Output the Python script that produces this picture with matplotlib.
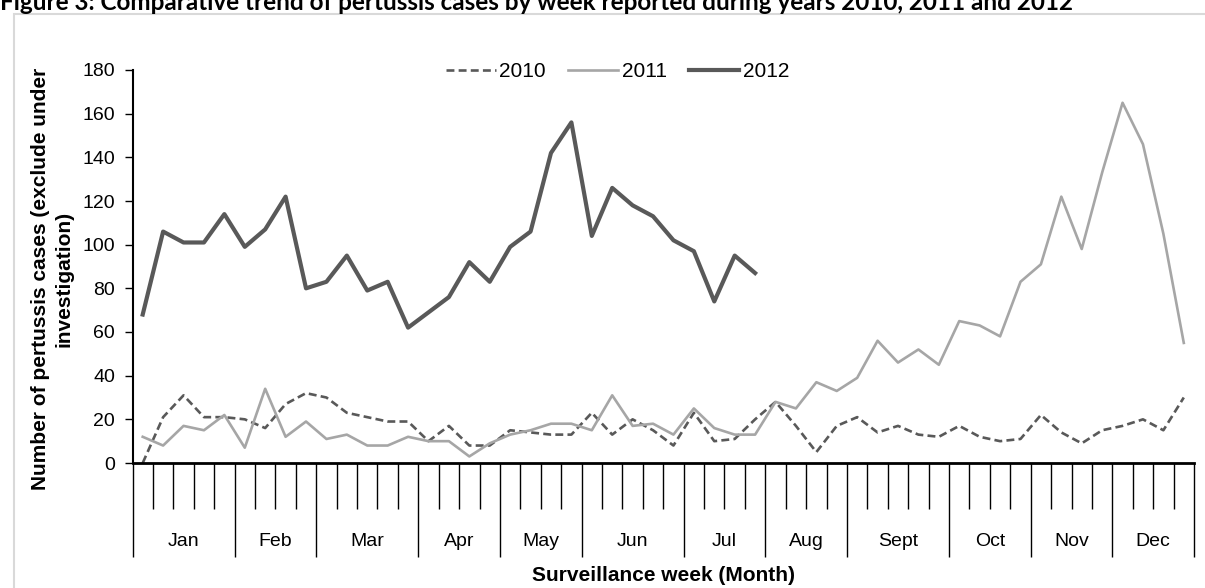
import numpy as np
import matplotlib
matplotlib.use('Agg')
import matplotlib.pyplot as plt
from matplotlib.patches import Rectangle
import matplotlib.transforms as mtransforms

# weekly counts
weeks = list(range(1, 53))
cases_2010 = [0, 21, 31, 21, 21, 20, 16, 27, 32, 30, 23, 21, 19, 19, 10, 17, 8, 8,
              15, 14, 13, 13, 23, 13, 20, 15, 8, 23, 10, 11, 20, 28, 17, 5, 17, 21,
              14, 17, 13, 12, 17, 12, 10, 11, 22, 14, 9, 15, 17, 20, 15, 30]
cases_2011 = [12, 8, 17, 15, 22, 7, 34, 12, 19, 11, 13, 8, 8, 12, 10, 10, 3, 9,
              13, 15, 18, 18, 15, 31, 17, 18, 13, 25, 16, 13, 13, 28, 25, 37, 33, 39,
              56, 46, 52, 45, 65, 63, 58, 83, 91, 122, 98, 133, 165, 146, 105, 55]
cases_2012 = [68, 106, 101, 101, 114, 99, 107, 122, 80, 83, 95, 79, 83, 62, 69, 76,
              92, 83, 99, 106, 142, 156, 104, 126, 118, 113, 102, 97, 74, 95, 87]
months = ['Jan', 'Feb', 'Mar', 'Apr', 'May', 'Jun', 'Jul', 'Aug', 'Sept', 'Oct', 'Nov', 'Dec']
weeks_per_month = [5, 4, 5, 4, 4, 5, 4, 4, 5, 4, 4, 4]

plt.rcParams['font.family'] = ['Liberation Sans', 'DejaVu Sans']

W, H = 1205, 588
fig = plt.figure(figsize=(W / 100, H / 100), dpi=100)
ax = fig.add_axes([132.5 / W, 1 - 463 / H, 1061.5 / W, 393 / H])

# light frame round the chart area
fig.patches.append(Rectangle((14 / W, -0.05), 1.2, 1 - 14 / H + 0.05,
                             transform=fig.transFigure, fill=False,
                             edgecolor='#d9d9d9', linewidth=1.5))

fig.text(0.0, 1 - 10 / H, 'Figure 3: Comparative trend of pertussis cases by week reported during years 2010, 2011 and 2012',
         family=['Lato', 'DejaVu Sans'], fontweight='bold', fontsize=17.5, ha='left', va='baseline')

ax.plot(weeks, cases_2010, color='#595959', linestyle=(0, (3, 1.6)), linewidth=1.9, label='2010')
ax.plot(weeks, cases_2011, color='#a6a6a6', linewidth=1.9, label='2011')
ax.plot(weeks[:len(cases_2012)], cases_2012, color='#595959', linewidth=3.0, label='2012')

ax.set_xlim(0.5, 52.5)
ax.set_ylim(0, 180)
ax.set_yticks(range(0, 181, 20))
ax.tick_params(axis='y', labelsize=14, length=5.5, width=1, direction='out', pad=7)

for s in ['top', 'right']:
    ax.spines[s].set_visible(False)
ax.spines['left'].set_linewidth(1.5)
ax.spines['bottom'].set_linewidth(2)

# week ticks between categories, longer ones at month boundaries
bounds = np.cumsum([0] + weeks_per_month)
ax.set_xticks([b + 0.5 for b in bounds])
ax.set_xticks([w + 0.5 for w in range(0, 53) if w not in bounds], minor=True)
ax.tick_params(axis='x', which='major', length=68, width=1, labelbottom=False)
ax.tick_params(axis='x', which='minor', length=33, width=1, labelbottom=False)

trans = mtransforms.blended_transform_factory(ax.transData, ax.transAxes)
for m, a, b in zip(months, bounds[:-1], bounds[1:]):
    ax.text((a + b) / 2 + 0.5, -0.201, m, transform=trans, ha='center', va='center', fontsize=14)

ax.text(0.5, -0.285, 'Surveillance week (Month)', transform=ax.transAxes,
        ha='center', va='center', fontsize=15, fontweight='bold')
fig.text(52.5 / W, 1 - 279 / H, 'Number of pertussis cases (exclude under\ninvestigation)',
         rotation=90, ha='center', va='center', multialignment='center',
         fontsize=15, fontweight='bold', linespacing=1.3)

ax.legend(loc='center left', bbox_to_anchor=((450 - 132.5) / 1061.5 - 0.004, 0.996), ncol=3,
          frameon=False, fontsize=15, handlelength=2.4, handletextpad=0.15,
          columnspacing=1.1, borderaxespad=0, borderpad=0)

fig.savefig('out.png', dpi=100)
